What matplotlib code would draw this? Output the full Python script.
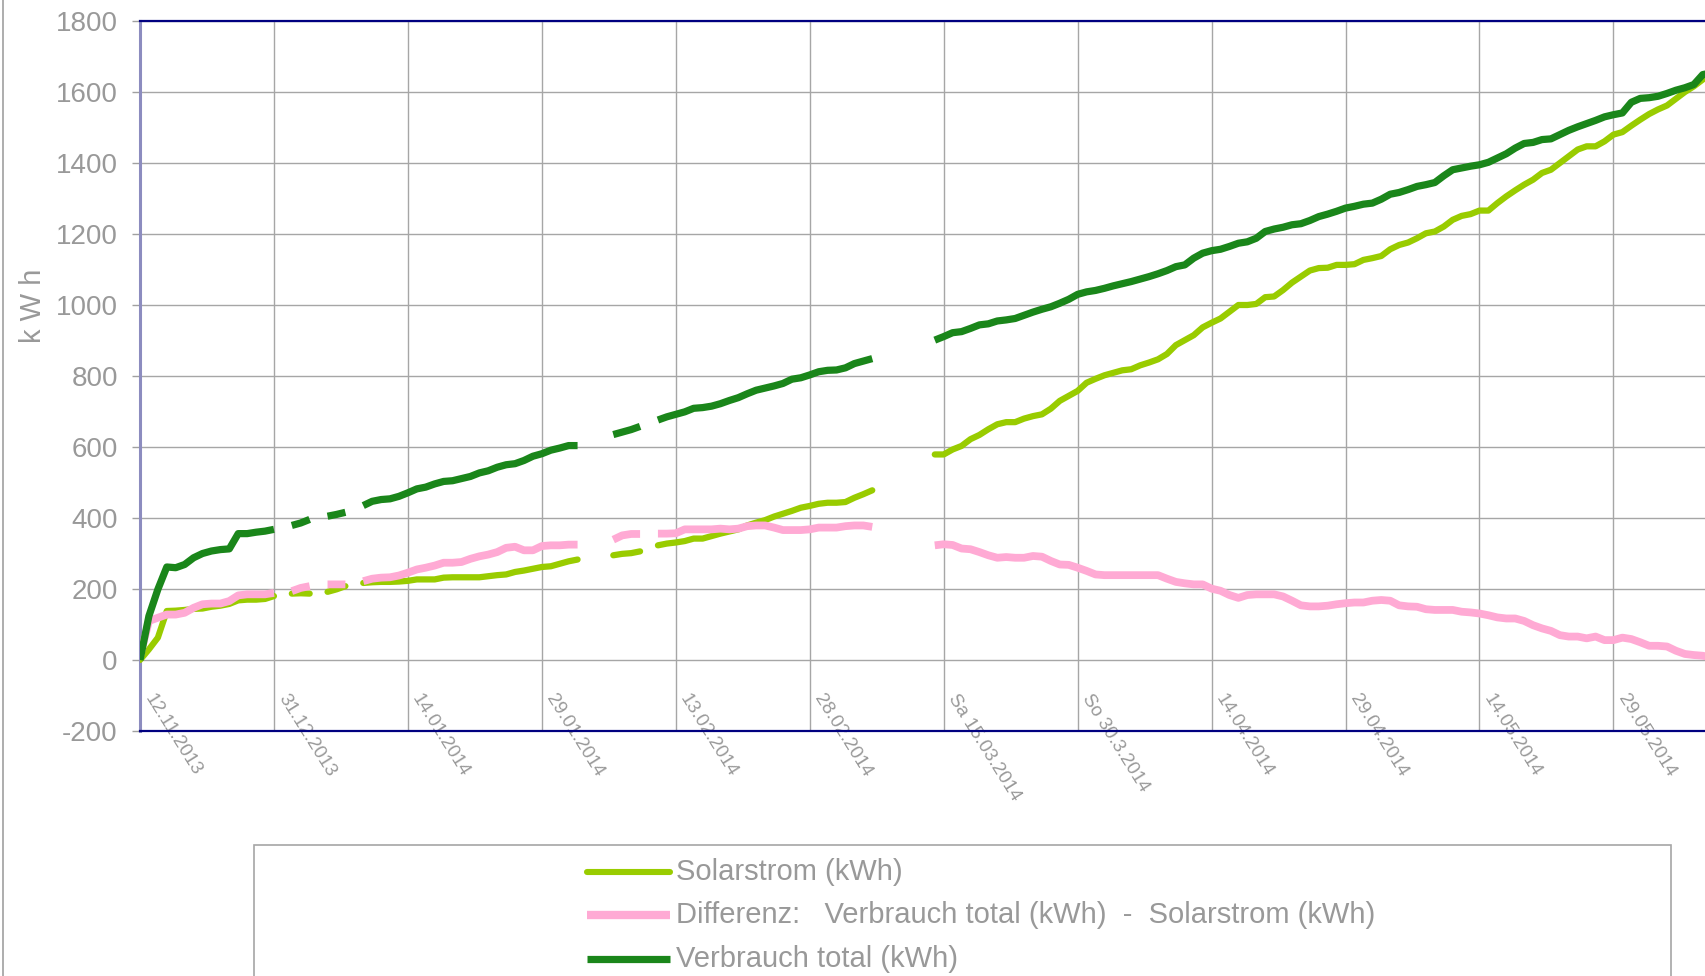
import numpy as np
import matplotlib
matplotlib.use("Agg")
import matplotlib.pyplot as plt
from matplotlib.lines import Line2D
from matplotlib.patches import Rectangle
from matplotlib.transforms import offset_copy

plt.rcParams['font.family'] = ['Liberation Sans Narrow', 'Liberation Sans', 'DejaVu Sans']
plt.rcParams['axes.unicode_minus'] = False

nan = np.nan

# category ticks (every 15th entry of the category axis)
tick_idx = [0, 15, 30, 45, 60, 75, 90, 105, 120, 135, 150, 165]
tick_labels = ['12.11.2013', '31.12.2013', '14.01.2014', '29.01.2014', '13.02.2014',
               '28.02.2014', 'Sa 15.03.2014', 'So 30.3.2014', '14.04.2014',
               '29.04.2014', '14.05.2014', '29.05.2014']

# cumulative values in kWh, nan = no reading
solarstrom = [
    0, 30, 63, 138, 139, 141, 144, 145, 150, 153,
    158, 168, 170, 170, 172, 180, nan, 187, 188, 187,
    nan, 192, 199, 208, nan, 217, 219, 220, 220, 221,
    223, 227, 227, 227, 232, 233, 233, 233, 233, 236,
    239, 241, 248, 252, 257, 262, 264, 271, 278, 283,
    nan, nan, nan, 295, 299, 301, 306, nan, 323, 328,
    331, 335, 342, 342, 349, 356, 362, 368, 379, 387,
    394, 404, 412, 420, 429, 434, 440, 443, 443, 445,
    457, 467, 478, nan, nan, nan, nan, nan, nan, 579,
    579, 593, 603, 622, 634, 650, 664, 670, 670, 680,
    687, 692, 708, 730, 744, 758, 781, 792, 802, 809,
    816, 819, 830, 838, 847, 862, 887, 901, 915, 937,
    950, 962, 981, 1000, 1000, 1003, 1022, 1024, 1042, 1063,
    1080, 1097, 1104, 1105, 1113, 1113, 1115, 1127, 1132, 1138,
    1157, 1169, 1176, 1188, 1202, 1207, 1221, 1240, 1251, 1256,
    1266, 1266, 1287, 1306, 1323, 1339, 1353, 1372, 1381, 1400,
    1419, 1438, 1447, 1447, 1461, 1480, 1487, 1505, 1522, 1538,
    1551, 1562, 1581, 1600, 1616, 1635, 1649,
]

differenz = [
    10, 110, 119, 128, 128, 133, 147, 157, 159, 159,
    166, 182, 185, 185, 185, 189, nan, 194, 203, 208,
    nan, 213, 213, 213, nan, 222, 229, 232, 233, 238,
    246, 255, 260, 266, 274, 274, 276, 285, 292, 297,
    304, 316, 319, 309, 309, 321, 323, 323, 325, 325,
    nan, nan, nan, 339, 351, 355, 355, nan, 356, 356,
    357, 368, 368, 368, 368, 370, 368, 370, 377, 379,
    379, 373, 366, 366, 366, 368, 373, 373, 373, 377,
    379, 379, 375, nan, nan, nan, nan, nan, nan, 323,
    326, 324, 314, 312, 304, 295, 288, 290, 288, 288,
    293, 291, 279, 269, 268, 260, 251, 241, 239, 239,
    239, 239, 239, 239, 239, 229, 220, 216, 213, 213,
    201, 195, 183, 175, 183, 185, 185, 185, 179, 167,
    154, 151, 151, 153, 157, 160, 162, 162, 167, 169,
    167, 154, 151, 150, 143, 141, 141, 141, 136, 134,
    131, 126, 120, 117, 117, 110, 98, 89, 82, 70,
    66, 66, 61, 66, 56, 56, 63, 59, 50, 40,
    40, 38, 26, 17, 14, 12, 7,
]

verbrauch_total = [
    0, 124, 199, 262, 260, 269, 288, 300, 307, 311,
    313, 356, 356, 360, 363, 368, nan, 379, 386, 396,
    nan, 405, 410, 416, nan, 435, 447, 452, 454, 461,
    471, 482, 487, 496, 503, 505, 511, 517, 527, 533,
    543, 550, 553, 562, 574, 581, 591, 597, 604, 604,
    nan, nan, nan, 635, 642, 649, 658, nan, 676, 685,
    692, 699, 709, 711, 715, 722, 731, 739, 750, 760,
    766, 772, 779, 791, 795, 803, 812, 816, 817, 823,
    835, 842, 849, nan, nan, nan, nan, nan, nan, 901,
    911, 922, 925, 934, 944, 947, 955, 958, 962, 971,
    980, 988, 995, 1005, 1016, 1030, 1037, 1041, 1047, 1054,
    1060, 1066, 1073, 1080, 1088, 1097, 1108, 1113, 1132, 1146,
    1153, 1157, 1165, 1174, 1178, 1188, 1207, 1214, 1219, 1226,
    1229, 1238, 1249, 1256, 1264, 1273, 1278, 1284, 1287, 1298,
    1312, 1317, 1325, 1334, 1339, 1345, 1364, 1381, 1386, 1391,
    1395, 1402, 1414, 1426, 1442, 1455, 1458, 1466, 1468, 1480,
    1492, 1502, 1511, 1520, 1530, 1536, 1541, 1571, 1582, 1584,
    1588, 1596, 1605, 1612, 1621, 1649, 1654,
]

series_names = ['Solarstrom (kWh)',
                'Differenz:   Verbrauch total (kWh)  -  Solarstrom (kWh)',
                'Verbrauch total (kWh)']
series_colors = ['#99cc00', '#ffaad4', '#1a861a']
series_widths = [4.5, 5.6, 5.2]

W, H = 1705, 976
fig = plt.figure(figsize=(W / 100, H / 100), dpi=100)

n_cat = 180  # axis extends past the right edge of the picture
px_per_cat = 8.93
ax = fig.add_axes([140 / W, 245 / H, n_cat * px_per_cat / W, 710 / H])

x = np.arange(len(solarstrom))
for vals, c, lw in zip([solarstrom, differenz, verbrauch_total], series_colors, series_widths):
    cap = 'round' if c == '#99cc00' else 'butt'
    ax.plot(x, np.array(vals, dtype=float), color=c, lw=lw,
            solid_capstyle=cap, solid_joinstyle='round', zorder=3)

ax.set_xlim(0, n_cat)
ax.set_ylim(-200, 1800)
ax.set_yticks(np.arange(-200, 1801, 200))
ax.set_xticks(tick_idx)
ax.set_xticklabels([])
ax.tick_params(axis='x', length=0)
ax.tick_params(axis='y', direction='out', length=6, width=1, color='#a0a0a0',
               labelsize=20, labelcolor='#999999', pad=10)
ax.grid(True, color='#a6a6a6', lw=1.0, zorder=0)

for s in ['top', 'bottom']:
    ax.spines[s].set_color('#000080')
    ax.spines[s].set_linewidth(1.6)
ax.spines['left'].set_color('#8c8cbf')
ax.spines['left'].set_linewidth(2.2)
ax.spines['right'].set_visible(False)

# rotated category labels, starting just below the zero line (axis line drawn over them)
for i, lab in zip(tick_idx, tick_labels):
    tr = offset_copy(ax.transData, fig=fig, x=8, y=-36, units='dots')
    ax.text(i, 0, lab, transform=tr, rotation=-58, rotation_mode='anchor',
            ha='left', va='center', fontsize=13.5, color='#999999',
            clip_on=False, zorder=2)

fig.text(33 / W, 1 - 306 / H, 'k W h', rotation=90, ha='center', va='center',
         fontsize=21, color='#999999')

# outer chart border on the left
fig.add_artist(Line2D([3 / W, 3 / W], [0, 1], transform=fig.transFigure,
                      color='#a0a0a0', lw=1.2))

# legend box
fig.add_artist(Rectangle((254 / W, -0.05), (1671 - 254) / W, 0.05 + (976 - 845) / H,
                         transform=fig.transFigure, fill=False,
                         edgecolor='#a6a6a6', lw=1.2))
leg_rows = [872, 915, 959]
leg_widths = [4.4, 6.0, 5.2]
for name, c, lw, yy in zip(series_names, series_colors, leg_widths, leg_rows):
    cap = 'round' if c == '#99cc00' else 'butt'
    fig.add_artist(Line2D([587 / W, 670 / W], [1 - yy / H, 1 - yy / H],
                          transform=fig.transFigure, color=c, lw=lw,
                          solid_capstyle=cap))
    fig.text(676 / W, 1 - yy / H, name, ha='left', va='center',
             fontsize=21, color='#999999')

fig.savefig('out.png', dpi=100)
